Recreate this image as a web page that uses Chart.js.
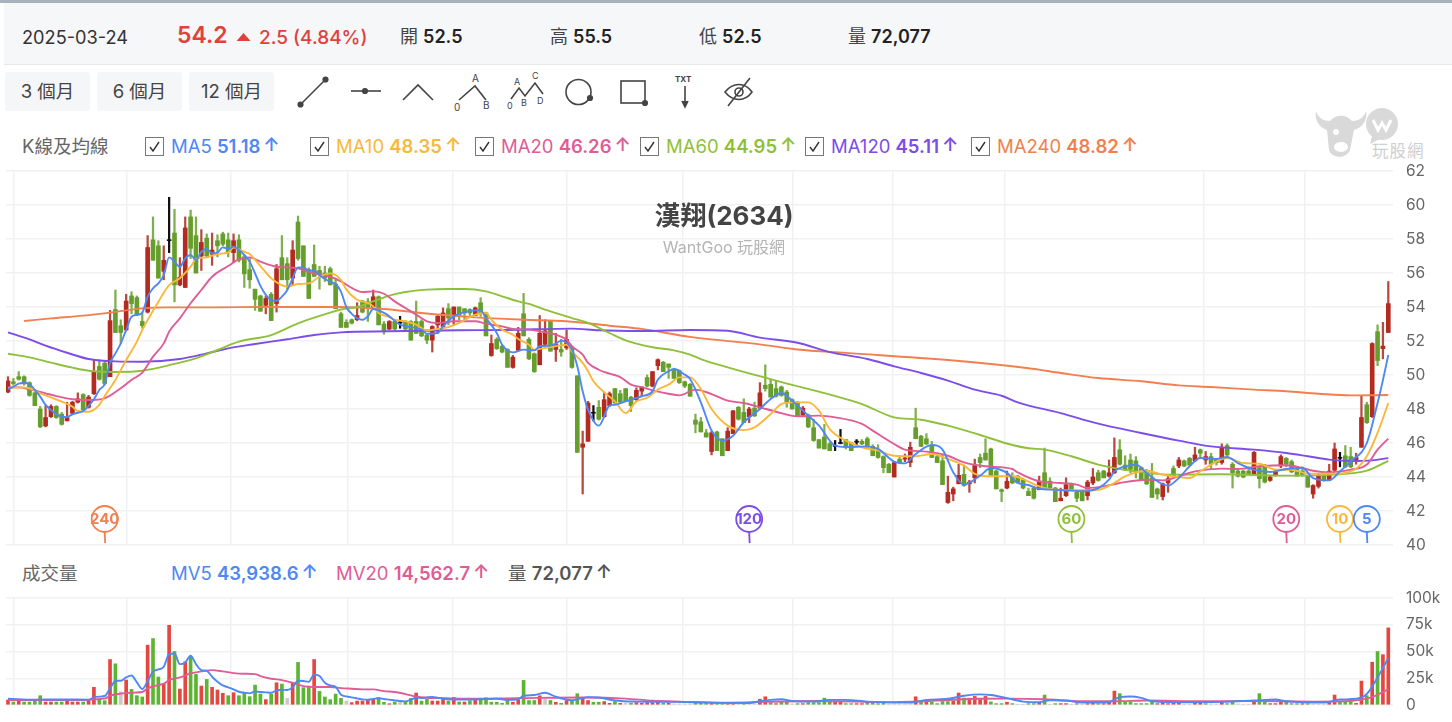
<!DOCTYPE html>
<html lang="zh-Hant">
<head>
<meta charset="utf-8">
<title>漢翔(2634)</title>
<script src="https://cdn.jsdelivr.net/npm/chart.js@4/dist/chart.umd.min.js"></script>
<style>
  html,body{margin:0;padding:0;background:#fff;width:1452px;height:722px;overflow:hidden;
    font-family:Inter,"Noto Sans CJK TC",sans-serif;color:#333;}
  .abs{position:absolute;white-space:nowrap;line-height:1;}
  #topline{position:absolute;left:0;top:0;width:1452px;height:3px;background:#a9b2bb;}
  #quote{position:absolute;left:4px;top:3px;width:1448px;height:61px;background:#f6f7f9;border-bottom:1px solid #e6e8ec;}
  .btn{position:absolute;top:72px;height:39px;width:85px;background:#f5f6f8;border-radius:3px;
    font-size:18.5px;line-height:39px;text-align:center;color:#444;}
  .q{font-size:18px;color:#444;font-weight:400;}
  .q b{font-weight:600;color:#222;}
  .legend{font-size:18.5px;font-weight:400;}
  .legend b{font-weight:600;}
  .legend .up{display:inline-block;font-weight:600;font-size:18.5px;position:relative;top:-2px;margin-left:3px;}
  .cb{position:absolute;top:137px;width:17px;height:17px;border:1px solid #777;background:#fff;box-sizing:content-box;}
  .cb svg{position:absolute;left:2px;top:2px;}
  canvas{position:absolute;left:0;display:block;}
  #title{position:absolute;left:524px;width:400px;top:202px;text-align:center;font-size:26px;font-weight:700;color:#444;line-height:28px;}
  #sub{position:absolute;left:524px;width:400px;top:238px;text-align:center;font-size:16px;color:#b4b4b4;line-height:18px;}
  #wm{position:absolute;left:1312px;top:106px;}
  #wmtext{position:absolute;left:1372px;top:143px;font-size:16.5px;color:#cfcfcf;letter-spacing:1px;line-height:1;}
</style>
</head>
<body>
<div id="topline"></div>
<div id="quote"></div>
<span class="abs" style="left:22px;top:28px;font-size:18.2px;color:#333">2025-03-24</span>
<span class="abs" style="left:177px;top:24px;font-size:23px;font-weight:600;color:#e2403a">54.2</span>
<svg class="abs" style="left:236px;top:32px" width="15" height="10"><path d="M7.5 1 L14.5 9 L0.5 9 Z" fill="#e2403a"/></svg>
<span class="abs" style="left:259px;top:28px;font-size:19px;font-weight:500;color:#e2403a">2.5 (4.84%)</span>
<span class="abs q" style="left:400px;top:28px">開 <b>52.5</b></span>
<span class="abs q" style="left:550px;top:28px">高 <b>55.5</b></span>
<span class="abs q" style="left:699px;top:28px">低 <b>52.5</b></span>
<span class="abs q" style="left:848px;top:28px">量 <b>72,077</b></span>

<div class="btn" style="left:5px">3 個月</div>
<div class="btn" style="left:97px">6 個月</div>
<div class="btn" style="left:189px">12 個月</div>

<svg class="abs" style="left:290px;top:68px" width="480" height="46" fill="none" stroke="#444" stroke-width="1.6" font-family="Inter,sans-serif" font-size="10">
  <path d="M11 36 L35 12"/><circle cx="10.500" cy="36.500" r="2.300" fill="#444"/><circle cx="35.500" cy="11.500" r="2.300" fill="#444"/>
  <path d="M61 23 L91 23"/><circle cx="75" cy="23" r="2.300" fill="#444"/>
  <path d="M113 32 L128 17 L143 32"/>
  <path d="M169 32 L185 18 L196 32"/>
  <g fill="#444" stroke="none"><text x="182" y="14">A</text><text x="164" y="43">0</text><text x="193" y="41">B</text></g>
  <path d="M221 31 L229 20 L235 28 L245 15 L253 26"/>
  <g fill="#444" stroke="none" font-size="9"><text x="224" y="17">A</text><text x="242" y="11">C</text><text x="217" y="41">0</text><text x="231" y="38">B</text><text x="247" y="36">D</text></g>
  <circle cx="288.500" cy="24" r="12.500"/><circle cx="300" cy="30" r="2.300" fill="#444"/>
  <rect x="331" y="13" width="24" height="22"/><circle cx="355" cy="35" r="2.300" fill="#444"/>
  <g fill="#444" stroke="none" font-size="8" font-weight="700"><text x="385" y="14">TXT</text></g>
  <path d="M395 18 L395 38"/><path d="M392 33 L395 39 L398 33" fill="#444"/>
  <path d="M435 24 C443 14 455 14 462 24 C455 34 443 34 435 24 Z M438 38 L460 10"/><circle cx="449" cy="24" r="4"/>
</svg>

<span class="abs" style="left:22px;top:137px;font-size:18.5px;color:#666">K線及均線</span>
<div class="cb" style="left:145px"><svg width="13" height="13" fill="none" stroke="#333" stroke-width="1.400"><path d="M2 7 L5 11 L11 2"/></svg></div>
<span class="abs legend" style="left:171px;top:137px;color:#4f87f5">MA5 <b>51.18</b><span class="up">↑</span></span>
<div class="cb" style="left:310px"><svg width="13" height="13" fill="none" stroke="#333" stroke-width="1.400"><path d="M2 7 L5 11 L11 2"/></svg></div>
<span class="abs legend" style="left:336px;top:137px;color:#f9b83a">MA10 <b>48.35</b><span class="up">↑</span></span>
<div class="cb" style="left:475px"><svg width="13" height="13" fill="none" stroke="#333" stroke-width="1.400"><path d="M2 7 L5 11 L11 2"/></svg></div>
<span class="abs legend" style="left:501px;top:137px;color:#df5c95">MA20 <b>46.26</b><span class="up">↑</span></span>
<div class="cb" style="left:640px"><svg width="13" height="13" fill="none" stroke="#333" stroke-width="1.400"><path d="M2 7 L5 11 L11 2"/></svg></div>
<span class="abs legend" style="left:666px;top:137px;color:#8fc03a">MA60 <b>44.95</b><span class="up">↑</span></span>
<div class="cb" style="left:805px"><svg width="13" height="13" fill="none" stroke="#333" stroke-width="1.400"><path d="M2 7 L5 11 L11 2"/></svg></div>
<span class="abs legend" style="left:831px;top:137px;color:#7c4de8">MA120 <b>45.11</b><span class="up">↑</span></span>
<div class="cb" style="left:971px"><svg width="13" height="13" fill="none" stroke="#333" stroke-width="1.400"><path d="M2 7 L5 11 L11 2"/></svg></div>
<span class="abs legend" style="left:997px;top:137px;color:#f2804e">MA240 <b>48.82</b><span class="up">↑</span></span>

<svg id="wm" width="90" height="56" fill="#d9d9d9">
  <path d="M4 5 C2 14 8 22 15 24 L17 44 C19 52 34 54 38 44 L42 24 C50 22 56 14 54 5 C52 12 46 15 40 15 C34 8 24 8 18 15 C12 15 6 12 4 5 Z"/>
  <circle cx="70" cy="18" r="16"/>
  <path d="M60 30 L58 38 L68 33 Z"/>
  <path d="M61 14 L66 24 L70 17 L74 24 L79 14" fill="none" stroke="#fff" stroke-width="3"/>
  <circle cx="24" cy="26" r="3" fill="#fff"/><ellipse cx="29" cy="41" rx="7" ry="5" fill="#fff"/>
</svg>
<span id="wmtext">玩股網</span>

<canvas id="priceChart" width="1452" height="395" style="top:160px"></canvas>
<div id="title">漢翔(2634)</div>
<div id="sub">WantGoo 玩股網</div>

<span class="abs" style="left:22px;top:564px;font-size:18.5px;color:#666">成交量</span>
<span class="abs legend" style="left:171px;top:564px;color:#4f87f5">MV5 <b>43,938.6</b><span class="up">↑</span></span>
<span class="abs legend" style="left:336px;top:564px;color:#df5c95">MV20 <b>14,562.7</b><span class="up">↑</span></span>
<span class="abs legend" style="left:508px;top:564px;color:#555">量 <b>72,077</b><span class="up">↑</span></span>
<canvas id="volumeChart" width="1452" height="127" style="top:588px"></canvas>

<script>
// Daily candles, oldest first
const opens = [
49.0,49.6,49.9,49.9,49.55,48.95,48.0,47.0,47.55,48.15,
47.7,47.3,47.75,48.4,48.85,48.1,48.9,50.5,50.7,49.9,
53.85,52.9,52.65,54.65,54.55,53.15,53.7,57.95,57.6,56.1,
57.9,58.35,55.3,55.15,59.3,58.2,57.0,58.05,57.1,57.9,
58.3,57.95,57.2,57.95,56.95,56.2,55.05,54.65,54.1,54.75,
54.2,56.9,56.55,55.7,59.0,57.6,56.2,56.5,56.15,56.0,
56.25,55.35,53.6,53.1,53.25,53.25,54.35,54.3,54.0,54.6,
53.0,52.7,53.15,53.05,53.1,53.15,53.15,53.15,52.35,52.05,
52.95,52.85,53.9,53.45,54.0,53.9,53.85,53.5,54.25,53.65,
51.15,52.1,51.7,51.5,50.45,51.45,53.6,52.1,51.25,50.6,
51.8,53.15,51.5,51.5,51.6,51.6,49.95,45.75,46.1,47.75,
48.1,47.55,48.2,49.2,48.9,49.2,48.7,48.55,49.05,49.85,
49.35,50.55,50.75,50.65,50.3,50.25,49.6,49.45,47.35,47.25,
46.6,45.5,46.65,46.25,45.55,46.55,48.1,47.8,47.55,48.05,
48.05,49.4,49.45,49.2,49.3,49.0,48.55,48.4,47.65,47.65,
46.9,46.2,46.35,45.95,45.8,45.97,46.2,46.0,46.05,46.1,
46.25,45.8,45.6,45.2,44.75,44.0,45.05,45.05,44.85,46.9,
46.4,46.25,45.85,45.2,44.95,42.5,43.0,43.6,44.15,43.6,
43.95,45.15,45.4,45.65,44.35,43.25,43.35,44.05,44.05,43.85,
43.15,43.35,43.25,44.25,43.75,43.35,42.6,42.9,43.55,43.1,
43.1,42.9,43.65,44.25,44.35,44.05,44.25,45.6,44.7,45.0,
44.95,44.55,44.25,43.95,43.3,42.85,43.65,44.5,44.65,44.95,
45.1,44.95,45.6,45.0,45.2,45.0,44.85,45.85,44.75,44.35,
44.35,44.35,44.15,44.55,44.7,43.8,44.1,44.65,45.1,44.9,
44.45,44.35,44.05,43.0,43.45,44.1,43.85,44.4,45.1,45.25,
45.2,45.0,45.75,48.25,47.55,52.55,51.55,52.5];
const highs = [
49.9,49.8,50.2,49.95,49.6,49.0,48.15,48.2,48.25,48.2,
47.8,48.4,48.45,48.95,48.9,48.8,50.9,50.9,50.8,53.8,
55.0,53.25,54.75,54.9,54.65,53.7,58.2,59.3,57.9,57.6,
60.45,59.75,56.9,59.3,59.7,59.3,58.55,58.3,58.35,58.25,
58.4,58.35,58.3,58.25,57.05,56.85,55.05,54.7,54.65,54.85,
56.5,58.2,56.9,57.9,59.35,57.6,56.3,57.65,56.4,56.4,
56.35,55.6,53.7,53.25,53.3,54.25,54.4,54.5,55.0,54.65,
53.15,53.2,53.25,53.45,53.2,53.2,54.35,53.25,52.4,52.9,
53.5,53.95,54.2,54.0,54.0,53.9,53.9,54.0,54.55,53.7,
52.35,52.2,51.75,51.55,51.15,52.8,54.8,52.2,51.3,53.5,
53.25,53.2,52.45,52.1,52.65,51.65,49.95,46.7,48.45,48.2,
48.5,49.0,49.0,49.2,49.1,49.2,48.75,49.25,49.3,50.0,
50.2,50.95,50.8,50.65,50.4,50.3,49.65,49.5,47.7,47.5,
46.8,46.7,46.7,46.25,46.9,47.9,48.15,48.6,48.1,48.4,
49.55,50.6,49.7,49.65,49.35,49.1,48.6,48.45,48.15,47.7,
47.4,46.2,47.1,46.05,46.15,46.8,46.2,46.05,46.2,46.2,
46.35,45.9,45.9,45.25,44.8,44.9,45.15,45.35,46.05,48.05,
46.45,46.55,46.1,45.35,45.35,44.05,43.4,44.75,44.7,43.8,
45.05,45.35,46.25,45.7,44.4,43.3,44.35,44.25,44.1,43.9,
43.35,43.45,44.05,45.7,43.95,43.4,43.35,43.95,43.65,43.15,
43.15,43.8,44.5,44.4,44.4,45.0,46.3,46.2,45.25,45.35,
45.2,44.6,44.45,44.8,43.35,43.65,44.1,44.65,45.15,45.0,
45.15,45.75,45.65,45.5,45.4,45.1,45.95,45.95,44.85,44.4,
44.4,44.6,45.5,44.65,44.75,44.1,44.45,45.3,45.15,45.0,
44.55,44.6,44.1,43.55,44.15,44.25,44.75,46.0,45.45,45.85,
45.75,45.4,48.75,48.4,51.9,52.95,53.1,55.5];
const lows = [
48.95,49.4,49.7,49.4,48.75,48.2,46.9,46.95,47.5,47.45,
47.05,47.3,47.7,48.35,47.9,48.05,48.85,49.7,49.4,49.9,
52.5,51.85,52.6,53.6,53.5,52.75,53.65,56.75,55.7,55.6,
57.2,54.3,55.25,55.15,56.85,56.0,56.15,56.9,56.45,56.95,
57.6,56.95,56.6,56.65,55.15,55.1,53.8,53.75,53.6,53.2,
53.7,55.6,55.05,55.3,56.75,55.8,54.5,55.8,55.05,55.5,
55.3,53.9,52.8,52.8,53.0,53.2,53.65,53.15,53.95,52.95,
52.4,52.65,52.65,52.75,52.65,52.05,52.45,52.25,51.85,51.35,
52.45,52.8,52.95,52.95,53.25,53.25,53.5,53.5,53.45,52.3,
51.1,51.5,51.3,50.45,50.4,51.45,52.3,50.9,50.15,50.6,
51.7,51.4,50.8,51.1,51.5,50.4,45.45,43.0,46.1,47.3,
47.35,47.5,48.15,48.35,48.35,48.45,47.85,48.5,48.75,49.3,
49.3,50.3,50.2,49.8,49.8,49.5,49.25,48.75,46.6,46.65,
46.35,45.3,45.55,45.25,45.55,46.55,47.35,47.2,47.2,47.55,
48.0,49.05,48.7,48.7,48.75,48.1,48.0,47.55,47.6,46.9,
46.1,45.7,45.65,45.55,45.55,45.95,45.65,45.55,45.8,45.9,
45.75,45.25,45.1,44.25,44.25,44.0,44.8,44.9,44.6,46.25,
45.8,45.9,45.15,44.85,43.55,42.45,42.6,43.6,43.45,43.1,
43.65,44.55,45.0,44.1,43.3,42.55,43.3,43.6,43.65,43.3,
42.9,42.7,43.25,43.35,43.25,42.55,42.6,42.85,43.2,42.55,
42.6,42.65,43.55,43.75,43.95,44.0,44.2,44.7,44.4,44.25,
43.95,43.8,43.55,42.8,42.7,42.65,43.1,44.0,44.55,44.6,
44.7,44.9,45.1,44.75,44.5,44.7,44.75,45.25,43.35,44.0,
43.95,44.15,44.1,43.35,43.65,43.75,44.05,44.55,44.6,44.25,
44.05,44.05,43.4,42.75,43.35,43.75,43.8,44.3,44.6,44.55,
44.55,44.75,45.75,47.15,47.5,50.55,50.95,52.5];
const closes = [
49.65,49.5,49.75,49.5,48.8,48.2,46.95,47.5,48.15,47.5,
47.1,47.5,48.4,48.6,47.95,48.7,50.2,49.75,49.5,53.2,
52.5,52.5,54.35,54.2,53.55,52.9,57.5,56.75,55.7,56.75,
57.9,55.3,55.75,58.65,57.45,56.0,57.8,57.0,57.35,57.6,
57.7,57.25,57.9,56.75,55.95,55.6,54.45,53.75,54.5,53.2,
56.25,55.6,55.6,57.35,56.85,55.8,54.5,55.8,55.9,55.7,
55.3,53.9,52.8,52.8,53.05,53.5,53.7,53.95,54.6,52.95,
52.55,53.15,52.7,53.05,52.7,52.05,52.45,52.3,52.05,52.85,
53.45,53.65,53.35,54.0,53.5,53.65,53.65,53.95,53.65,52.3,
51.85,51.55,51.35,50.45,51.05,52.45,52.3,50.95,50.2,52.45,
52.6,51.4,51.8,51.35,52.1,50.45,45.45,45.95,48.35,47.75,
47.4,48.55,48.9,48.35,48.4,48.45,48.2,49.1,49.3,49.35,
50.2,50.9,50.2,50.45,49.8,49.55,49.35,48.75,47.1,46.65,
46.35,46.6,45.55,45.25,46.7,47.9,47.4,47.2,48.0,47.6,
48.95,49.2,48.7,48.75,48.8,48.4,48.0,47.6,48.05,46.95,
46.15,45.7,45.65,45.55,45.8,45.97,45.75,45.55,46.05,45.95,
45.75,45.25,45.15,44.55,44.25,44.85,44.85,45.12,45.75,46.25,
45.8,45.95,45.15,44.85,43.55,43.1,43.3,44.1,43.5,43.7,
44.7,44.85,45.0,44.1,43.3,43.15,43.75,43.65,43.7,43.35,
42.9,42.75,43.75,43.35,43.35,42.55,42.75,43.55,43.25,42.75,
42.6,43.7,44.0,43.8,43.95,44.25,45.15,44.75,44.4,44.45,
44.35,43.85,43.6,42.8,43.0,43.6,43.9,44.05,45.0,44.65,
44.7,45.3,45.4,45.2,44.75,44.85,45.75,45.3,44.25,44.05,
44.0,44.2,45.45,43.9,43.7,44.0,44.3,45.2,44.75,44.3,
44.05,44.15,43.4,43.5,44.05,43.8,44.35,45.65,45.1,44.6,
44.6,45.15,47.5,47.2,51.85,50.85,51.7,54.2];

// Daily volume in lots
const volumes = [
4700,2800,4700,2800,2800,4000,8700,2800,2800,2800,
2800,4700,2800,2800,2800,4000,16500,5600,4000,42500,
38500,12400,23300,14600,8700,7500,55900,62100,26100,19300,
74500,50000,14900,40400,45000,28600,17700,23900,16500,14000,
10900,8700,11500,8700,11500,7800,18600,10200,5000,10200,
20800,19600,6200,21100,39800,16200,17700,42500,12700,7500,
5000,10200,6200,3700,2200,3700,3700,4300,5300,5600,
2500,1200,2800,2800,2800,6200,11200,3700,5300,3700,
3700,5600,3700,7100,2800,2800,4000,4700,4700,6800,
2600,2600,1600,4200,2600,4800,23000,4200,4200,8600,
5400,4200,2600,1600,4200,4200,10600,6400,4200,2600,
2600,3200,1600,3200,1600,1600,1600,2200,1600,2200,
2200,2600,1600,1600,1000,1000,1000,1000,1600,1600,
2200,1600,2200,1600,2200,1600,1000,1600,1000,1000,
5400,7700,2200,1300,2600,2600,1000,1300,1300,2200,
2200,2200,6400,2600,2600,3200,1300,1300,1300,1300,
2600,2200,1300,2600,1000,1000,1000,1000,1000,7700,
2600,2600,2600,1300,3200,3200,3800,11200,6500,6400,
8000,5400,8000,2900,1300,1300,2600,1300,600,600,
1300,1300,2200,9300,600,1300,1300,1300,600,1300,
600,1300,2600,1300,1300,2600,13000,10600,2600,2900,
1300,1300,1300,2600,1300,2600,1300,2600,2600,600,
600,2000,2000,1300,1000,1000,2600,1300,2600,1000,
600,600,3200,10600,2600,1300,1300,3800,2600,1300,
1300,1300,1300,600,600,600,2600,9300,3200,2600,
2600,1600,22400,8700,40000,50000,47000,72077];

// Volume direction against the prior close: r up, g down, n unchanged
const volumeDirections = (
"rgrggggrrg" + "grrrgrrggr" + "gnrgggrggr" + "rgrrggrgrr" +
"rgrgggggrg" + "rgnrgggrgg" + "gggnrrrrrg" + "grgnggrggr" + "rrgrgrgrgg" +
"ggggrrgggr" + "ngrgrggrrg" + "grrgrngrrr" + "rrgrnnnngg" + "grggrrngnn" +
"rrgrggngrg" + "ggggrrggrr" + "ggggnnnnnr" + "grggggrrgr" + "rrrgggrgnn" +
"ggrgngrrng" + "nrrgrrrggg" + "ggggrrrrrn" + "nrrgnnrggn" + "nnrggrrrgg" +
"grgnnnrrgg" + "grrgrgrr").split("");

// Moving averages as [session index, value] readings
const ma5 = [[0,49.16],[1,49.31],[2,49.49],[3,49.53],[4,49.47],[5,49.12],[6,48.73],[7,48.24],[8,47.94],[9,47.69],[10,47.55],[11,47.52],[12,47.69],[13,47.78],[14,47.88],[15,48.18],[16,48.57],[17,49.12],[18,49.47],[19,50.69],[20,51.27],[21,51.86],[22,52.65],[23,53.43],[24,53.53],[25,53.67],[26,54.61],[27,55.1],[28,55.39],[29,55.88],[30,56.92],[31,56.67],[32,56.37],[33,56.86],[34,57.06],[35,56.76],[36,57.25],[37,57.41],[38,57.16],[39,57.2],[40,57.51],[41,57.41],[42,57.55],[43,57.35],[44,57.06],[45,56.67],[46,55.98],[47,55.24],[48,54.71],[49,54.41],[50,54.37],[51,54.61],[52,55],[53,55.69],[54,56.33],[55,56.33],[56,56.14],[57,56.14],[58,55.88],[59,55.65],[60,55.49],[61,55.35],[62,54.9],[63,54.0],[64,53.6],[65,53.35],[66,53.25],[67,53.45],[68,53.88],[70,53.65],[71,53.45],[73,52.96],[75,52.82],[77,52.67],[78,52.43],[80,52.47],[81,52.86],[83,53.45],[85,53.69],[87,53.8],[88,53.8],[89,53.35],[91,52.47],[92,51.78],[94,51.33],[96,51.49],[98,51.45],[99,51.69],[101,51.73],[102,51.84],[103,52.02],[105,51.49],[106,50.51],[107,49.04],[108,47.96],[110,47.02],[112,48.2],[113,48.25],[115,48.45],[116,48.55],[118,48.75],[120,49.04],[121,49.73],[123,50.22],[124,50.35],[126,50.02],[127,49.76],[129,48.39],[131,46.73],[133,46.14],[135,46.43],[137,47.22],[140,48],[142,48.59],[144,48.94],[146,48.49],[149,47.61],[151,47.02],[154,45.84],[156,45.76],[160,45.8],[162,45.65],[165,44.9],[167,44.8],[169,45.35],[172,45.88],[174,45.61],[176,44.27],[178,43.55],[181,44.08],[183,44.53],[186,44.24],[188,43.65],[190,43.53],[192,43.31],[195,43.25],[198,43.2],[200,43.16],[203,43.35],[205,43.84],[206,44.33],[208,44.63],[210,44.73],[212,44.24],[214,43.75],[216,43.49],[218,43.94],[220,44.63],[222,45.12],[225,45.06],[227,45.18],[229,44.82],[232,44.43],[235,44.29],[238,44.47],[241,44.53],[243,43.94],[246,43.8],[248,44.33],[250,44.92],[253,46],[255,48.35],[256,49.7],[257,51.18]];
const ma10 = [[0,49.22],[2,49.27],[4,49.22],[6,48.92],[8,48.69],[10,48.43],[12,48.14],[13,47.88],[15,47.84],[17,48.24],[18,48.76],[20,49.71],[22,50.88],[24,51.96],[25,52.65],[28,54.31],[30,55.29],[32,55.69],[34,56.37],[35,56.82],[37,56.92],[39,57.12],[41,57.2],[42,57.49],[44,57.25],[45,57.12],[47,56.41],[49,55.69],[52,55.2],[54,55.35],[56,55.39],[58,55.78],[60,55.98],[62,55.6],[63,55.02],[65,54.43],[67,54.24],[68,54.04],[69,53.65],[71,53.41],[72,53.25],[74,53.16],[76,52.96],[78,52.63],[80,52.71],[82,52.82],[84,53.06],[87,53.55],[89,53.65],[90,53.25],[92,52.67],[94,52.37],[95,52.12],[97,51.78],[98,51.49],[100,51.59],[102,51.69],[104,51.78],[105,51.39],[107,50.71],[108,50.22],[109,49.63],[111,48.98],[113,48.45],[115,47.76],[117,48.45],[119,48.65],[121,49.14],[123,49.43],[125,49.86],[127,49.86],[129,49.18],[131,48],[134,47.02],[137,46.76],[139,46.92],[142,47.71],[144,48.29],[146,48.39],[149,48.39],[151,47.9],[153,46.82],[156,46.14],[159,45.75],[162,45.55],[165,45.25],[169,45.22],[172,45.35],[175,45.06],[178,44.67],[180,44.18],[182,44.04],[187,44.04],[188,44],[192,43.45],[195,43.25],[200,43.22],[203,43.25],[206,43.65],[208,44.04],[212,44.37],[215,44.14],[220,43.94],[222,44.33],[227,45.12],[230,44.82],[233,44.78],[236,44.43],[239,44.43],[242,44.2],[247,44.2],[251,44.49],[253,45.22],[255,46.59],[257,48.35]];
const ma20 = [[0,49.27],[2,49.27],[4,49.16],[7,48.92],[9,48.76],[12,48.57],[15,48.53],[18,48.63],[21,49.22],[23,49.71],[25,50.14],[27,51.08],[29,51.86],[30,52.55],[32,53.33],[34,54.22],[36,55],[38,55.78],[41,56.41],[43,56.8],[45,56.92],[47,56.67],[50,56.37],[52,56.33],[54,56.27],[57,55.98],[60,55.78],[62,55.51],[64,55.12],[66,54.88],[68,54.92],[70,54.78],[72,54.33],[74,53.94],[76,53.55],[78,53.16],[80,53.06],[83,53.16],[87,53.16],[89,53.02],[92,52.86],[94,52.71],[97,52.67],[99,52.57],[102,52.37],[104,52.08],[105,51.69],[107,51.2],[108,50.71],[110,50.31],[112,50.08],[114,49.88],[116,49.43],[118,49.29],[120,49.1],[123,48.9],[125,48.8],[128,49.14],[131,48.88],[134,48.49],[137,48.35],[140,48.1],[143,47.84],[147,47.57],[151,47.61],[154,47.51],[159,47.12],[161,46.73],[165,45.94],[167,45.61],[171,45.49],[175,45.25],[178,44.86],[182,44.63],[187,44.47],[188,44.27],[192,43.75],[196,43.65],[199,43.55],[201,43.35],[204,43.45],[207,43.65],[212,43.84],[215,43.8],[218,44.04],[221,44.33],[226,44.49],[229,44.47],[233,44.63],[238,44.69],[241,44.53],[243,44.37],[246,44.27],[250,44.43],[253,44.73],[255,45.61],[257,46.26]];
const ma60 = [[0,51.25],[4,51.04],[8,50.73],[12,50.43],[15,50.25],[20,50.18],[25,50.25],[31,50.65],[35,50.98],[39,51.47],[43,51.96],[49,52.35],[54,53.04],[60,53.67],[62,53.85],[65,54],[68,54.33],[71,54.67],[74,54.88],[78,55.02],[82,55.06],[85,55.06],[89,54.92],[92,54.63],[95,54.33],[97,54.18],[100,53.84],[104,53.45],[105,53.35],[108,53.06],[112,52.47],[115,52.04],[120,51.63],[124,51.45],[127,51.2],[129,50.94],[134,50.45],[143,49.67],[159,48.29],[165,47.51],[170,47.37],[175,47.02],[181,46.47],[187,45.88],[190,45.69],[193,45.61],[198,45.22],[203,44.73],[210,44.33],[216,44.14],[226,44.16],[238,44.08],[247,44.14],[253,44.37],[257,44.95]];
const ma120 = [[0,52.51],[4,52.1],[7,51.73],[11,51.31],[15,50.94],[20,50.8],[25,50.78],[32,50.94],[37,51.27],[41,51.57],[46,51.82],[52,52.1],[57,52.35],[62,52.51],[71,52.57],[84,52.63],[93,52.65],[105,52.73],[110,52.63],[118,52.59],[127,52.65],[134,52.6],[140,52.2],[147,51.9],[153,51.35],[160,50.94],[165,50.51],[170,50.12],[175,49.67],[180,49.14],[185,48.78],[188,48.39],[196,47.76],[203,47.14],[211,46.59],[218,46.14],[224,45.8],[232,45.61],[238,45.41],[242,45.22],[246,45.02],[250,44.94],[254,44.98],[257,45.11]];
const ma240 = [[3,53.18],[8,53.33],[14,53.49],[19,53.67],[25,53.92],[30,53.98],[39,53.98],[48,54],[62,54],[70,53.88],[77,53.65],[87,53.39],[96,53.25],[104,53.16],[112,52.9],[118,52.71],[127,52.24],[140,51.8],[147,51.5],[156,51.3],[175,50.88],[190,50.4],[196,50.12],[203,49.82],[211,49.63],[218,49.39],[224,49.29],[232,49.14],[238,49.04],[244,48.9],[250,48.8],[257,48.82]];

// Volume averages as [session index, lots] readings
const mv5 = [[0,5900],[5,5000],[10,5200],[15,5000],[16,7100],[17,7800],[18,8400],[19,15500],[20,22400],[21,22700],[22,25800],[23,27600],[24,21100],[25,14900],[26,22400],[27,31100],[28,33200],[29,35700],[30,47500],[31,48100],[32,38200],[33,39800],[34,46000],[35,38200],[36,32600],[37,32000],[38,26400],[39,21700],[40,18300],[41,16500],[42,14600],[43,12400],[44,11500],[45,10900],[46,12700],[47,12100],[48,11800],[49,11500],[50,13700],[51,14300],[52,14000],[53,16500],[54,22700],[55,22400],[56,21700],[57,28600],[58,27000],[59,20800],[60,18300],[61,17100],[62,9600],[63,8100],[64,7100],[65,6200],[66,5300],[67,5000],[68,5600],[69,6500],[70,5600],[71,5000],[72,4300],[73,3700],[74,3400],[75,5000],[76,6800],[77,6500],[78,7100],[79,7500],[80,6800],[81,5900],[85,5000],[91,5800],[93,4800],[95,5400],[96,8600],[98,9300],[100,11500],[101,9900],[102,7700],[105,4500],[108,7400],[110,7000],[113,4200],[117,3200],[125,2900],[130,2200],[138,1900],[140,3500],[142,4800],[144,5400],[146,3800],[150,3200],[153,4800],[156,4800],[160,3200],[168,2200],[171,4800],[175,5800],[178,8600],[181,9900],[183,9300],[186,6400],[189,3200],[192,2600],[194,4500],[197,4200],[200,2200],[205,2600],[206,5100],[207,7400],[209,8000],[211,6700],[213,3500],[220,2600],[226,2900],[232,4200],[236,5100],[238,3500],[245,2200],[248,5100],[251,5800],[253,10300],[255,25600],[257,43938.6]];
const mv20 = [[0,4700],[15,4700],[16,5300],[18,5900],[19,8700],[21,10600],[23,11500],[25,12100],[26,15500],[27,17400],[29,19900],[30,23300],[32,25800],[34,29500],[36,31400],[38,32600],[40,31400],[42,29800],[44,29200],[46,28900],[47,27000],[49,24500],[51,23300],[53,20800],[55,17700],[58,16800],[60,16800],[62,15800],[64,15200],[66,14600],[68,14600],[70,13000],[72,12100],[74,10200],[76,7800],[78,6800],[80,6500],[85,5900],[95,6400],[107,7000],[115,6000],[120,4000],[125,3200],[134,2200],[150,3800],[165,2600],[178,5400],[181,5800],[186,6000],[193,5400],[200,3500],[206,3500],[212,4200],[222,3500],[233,3800],[243,3200],[250,3800],[252,5000],[254,7400],[255,9600],[257,14562.7]];

// Month boundaries for the vertical grid, in session indexes
const monthStarts = [1,22.2,41.5,63.3,82.9,104.1,125.7,146.2,164.8,185.6,222.7,241.5];

// Period markers pinned to the foot of the price pane
const pinPeriods = [240,120,60,20,10,5];
const pinColors = ["#f2804e","#7c4de8","#8fc03a","#df5c95","#f9b83a","#4f87f5"];

const yPriceTicks = [40,42,44,46,48,50,52,54,56,58,60,62];
const yVolumeTicks = [0,25000,50000,75000,100000];

const FONT = 'Inter, "Noto Sans CJK TC", sans-serif';
const GRID = "#f0f1f2";
const sessions = opens.map((_, i) => i);
const asPoints = pairs => pairs.map(p => ({x: p[0], y: p[1]}));

const xAxis = () => ({
  type: "linear", min: -0.372, max: 257.875, offset: false,
  border: {display: false},
  grid: {color: GRID, lineWidth: 1.5, drawTicks: false, offset: false},
  ticks: {display: false},
  afterBuildTicks: s => { s.ticks = monthStarts.map(v => ({value: v})); }
});

const yAxis = (min, max, values, label) => ({
  type: "linear", position: "right", min, max,
  border: {display: false},
  grid: {color: GRID, lineWidth: 1.5, drawTicks: true, tickLength: 13, tickColor: "rgba(0,0,0,0)"},
  ticks: {color: "#666", padding: 0, font: {family: FONT, size: 15.5}, autoSkip: false, callback: label},
  afterBuildTicks: s => { s.ticks = values.map(v => ({value: v})); },
  afterFit: s => { s.width = 59; }
});

const line = (label, pairs, color, order, width) => ({
  type: "line", label, data: asPoints(pairs), borderColor: color, borderWidth: width,
  pointRadius: 0, cubicInterpolationMode: "monotone", order
});

const candleColor = (i, up, down, flat) =>
  closes[i] > opens[i] ? up : closes[i] < opens[i] ? down : flat;

// Draws the period pins from the x scale of the price pane
const pinPlugin = {
  id: "periodPins",
  afterDatasetsDraw(chart) {
    const {ctx, scales: {x, y}} = chart;
    const base = y.getPixelForValue(40);
    ctx.save();
    pinPeriods.forEach((period, k) => {
      const px = x.getPixelForValue(opens.length - period);
      const cy = base - 26;
      ctx.strokeStyle = pinColors[k];
      ctx.fillStyle = "rgba(255,255,255,0.85)";
      ctx.lineWidth = 1.8;
      ctx.beginPath(); ctx.arc(px, cy, 13, 0, Math.PI * 2); ctx.fill(); ctx.stroke();
      ctx.beginPath(); ctx.moveTo(px, cy + 13); ctx.lineTo(px + 0.5, base - 2); ctx.stroke();
      ctx.fillStyle = pinColors[k];
      ctx.font = "700 15px " + FONT;
      ctx.textAlign = "center"; ctx.textBaseline = "middle";
      ctx.fillText(String(period), px, cy + 0.5);
    });
    ctx.restore();
  }
};

new Chart(document.getElementById("priceChart"), {
  data: {
    datasets: [
      line("MA5", ma5, "#4f87f5", 1, 1.9),
      line("MA10", ma10, "#f9b83a", 2, 1.9),
      line("MA20", ma20, "#df5c95", 3, 1.9),
      line("MA60", ma60, "#8fc03a", 4, 1.9),
      line("MA120", ma120, "#7c4de8", 5, 1.9),
      line("MA240", ma240, "#f2804e", 6, 1.9),
      {
        type: "bar", label: "實體", order: 10, grouped: false, barThickness: 4, minBarLength: 1,
        data: sessions.map(i => ({x: i, y: [opens[i], closes[i]]})),
        backgroundColor: sessions.map(i => candleColor(i, "#b32a20", "#659e2c", "#111"))
      },
      {
        type: "bar", label: "影線", order: 11, grouped: false, barThickness: 1.6,
        data: sessions.map(i => ({x: i, y: [lows[i], highs[i]]})),
        backgroundColor: sessions.map(i => candleColor(i, "#b9483f", "#7fae4c", "#111"))
      }
    ]
  },
  options: {
    responsive: false, animation: false, devicePixelRatio: 1,
    layout: {padding: {left: 6, right: 0, top: 11, bottom: 10}},
    plugins: {legend: {display: false}, tooltip: {enabled: false}, title: {display: false}},
    scales: {x: xAxis(), y: yAxis(40, 62, yPriceTicks, v => String(v))}
  },
  plugins: [pinPlugin]
});

const volumeColors = {r: "#e5463f", g: "#5cb531", n: "#c9c9c9"};

new Chart(document.getElementById("volumeChart"), {
  data: {
    datasets: [
      line("MV5", mv5, "#4f87f5", 1, 1.9),
      line("MV20", mv20, "#df5c95", 2, 1.9),
      {
        type: "bar", label: "成交量", order: 10, barThickness: 3, grouped: false,
        data: sessions.map(i => ({x: i, y: volumes[i]})),
        backgroundColor: volumeDirections.map(d => volumeColors[d])
      }
    ]
  },
  options: {
    responsive: false, animation: false, devicePixelRatio: 1,
    layout: {padding: {left: 6, right: 0, top: 10, bottom: 10}},
    plugins: {legend: {display: false}, tooltip: {enabled: false}, title: {display: false}},
    scales: {
      x: xAxis(),
      y: yAxis(0, 100000, yVolumeTicks, v => (v === 0 ? "0" : v / 1000 + "k"))
    }
  }
});
</script>
</body>
</html>
